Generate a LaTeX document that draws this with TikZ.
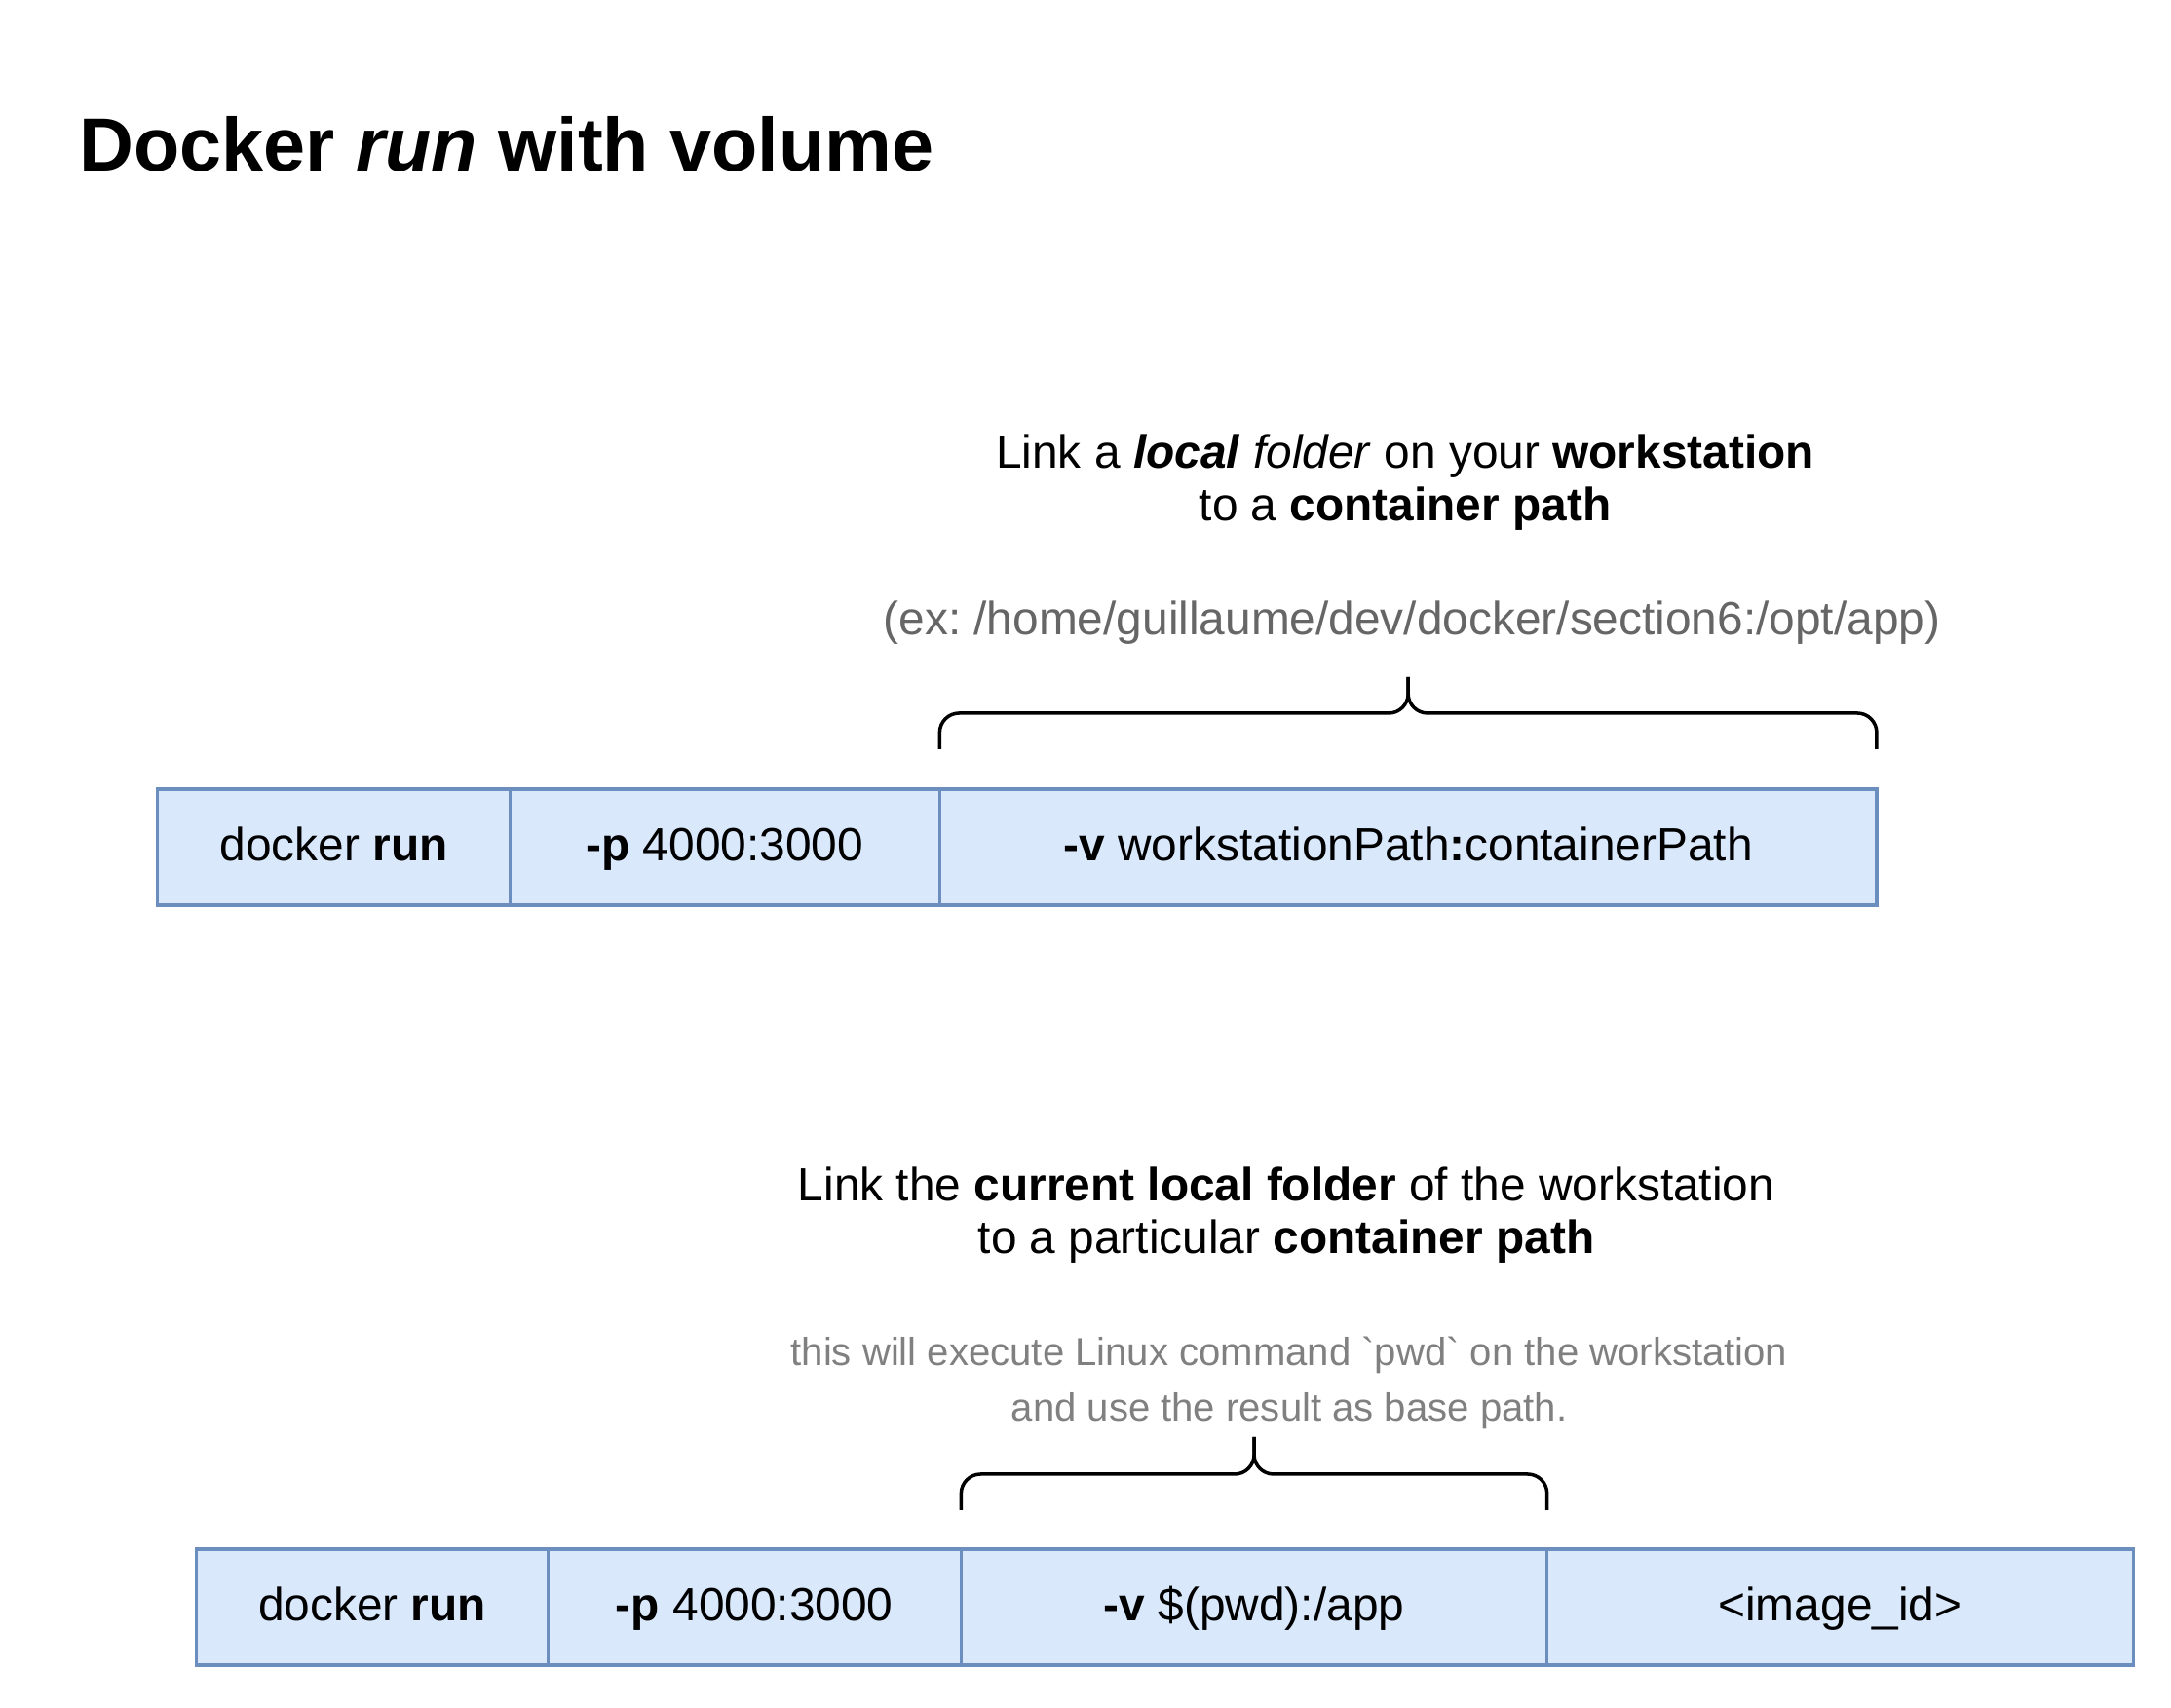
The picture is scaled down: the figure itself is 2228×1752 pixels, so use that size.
\documentclass[tikz,border=0pt]{standalone}
\usepackage{fontspec}
\setmainfont{Liberation Sans}
\usetikzlibrary{positioning,calc}
\definecolor{cellfill}{HTML}{DAE8FC}
\definecolor{celldraw}{HTML}{6C8EBF}
\definecolor{notegray}{HTML}{666666}
\definecolor{hintgray}{HTML}{808080}
\frenchspacing

\begin{document}
\begin{tikzpicture}[x=0.01cm,y=-0.01cm]

% definitions
\tikzstyle{cell} = [rectangle, minimum height=1.19cm, inner sep=0pt, outer sep=0pt, text centered, text height=9.8pt, text depth=1.8pt, draw=celldraw, fill=cellfill, line width=0.9pt, font=\fontsize{13.6}{15.3}\selectfont]

\tikzstyle{caption} = [align=center, font=\fontsize{13.6}{15.3}\selectfont]

\tikzstyle{note} = [align=center, text=notegray, font=\fontsize{13.6}{15.3}\selectfont]

\tikzstyle{hint} = [align=center, text=hintgray, font=\fontsize{11.4}{16.2}\selectfont]

\tikzstyle{brace} = [line width=1pt, rounded corners=0.2cm]

\useasboundingbox (0,0) rectangle (2228,1752);

% the title
\node (title) [anchor=base west, font=\fontsize{22}{26}\selectfont\bfseries] at (69,176) {Docker \textit{run} with volume};

% first command
\node (t0) [cell, minimum width=3.61cm] at (342.5,869.5) {docker \textbf{run}};

\node (t1) [cell, minimum width=4.41cm, right=0pt of t0] {\textbf{-p} 4000:3000};

\node (t2) [cell, minimum width=9.61cm, right=0pt of t1] {\textbf{-v} workstationPath\textbf{:}containerPath};

\node (h1) [caption] at (1442,495) {Link a \textbf{\textit{local}} \textit{folder} on your \textbf{workstation}\\to a \textbf{container path}};

\node (n1) [note] at (1449,639) {(ex: /home/guillaume/dev/docker/section6:/opt/app)};

\coordinate (tl) at ($(t2.north west)+(0,-41)$);
\coordinate (tr) at ($(t2.north east)+(0,-41)$);
\coordinate (tm) at ($(tl)!0.5!(tr)+(0,-74)$);

\draw [brace] (tl) |- ($(tm)+(0,37)$) -- (tm);
\draw [brace] (tr) |- ($(tm)+(0,37)$) -- (tm);

% second command
\node (b0) [cell, minimum width=3.6cm] at (382,1649.5) {docker \textbf{run}};

\node (b1) [cell, minimum width=4.24cm, right=0pt of b0] {\textbf{-p} 4000:3000};

\node (b2) [cell, minimum width=6.01cm, right=0pt of b1] {\textbf{-v} \$(pwd):/app};

\node (b3) [cell, minimum width=6.01cm, right=0pt of b2] {<image\_id>};

\node (h2) [caption] at (1320,1247) {Link the \textbf{current local folder} of the workstation\\to a particular \textbf{container path}};

\node (n2) [hint] at (1323,1419) {this will execute Linux command \textasciigrave{}pwd\textasciigrave{} on the workstation\\and use the result as base path.};

\coordinate (bl) at ($(b2.north west)+(0,-40)$);
\coordinate (br) at ($(b2.north east)+(0,-40)$);
\coordinate (bm) at ($(bl)!0.5!(br)+(0,-75)$);

\draw [brace] (bl) |- ($(bm)+(0,38)$) -- (bm);
\draw [brace] (br) |- ($(bm)+(0,38)$) -- (bm);

\end{tikzpicture}
\end{document}
